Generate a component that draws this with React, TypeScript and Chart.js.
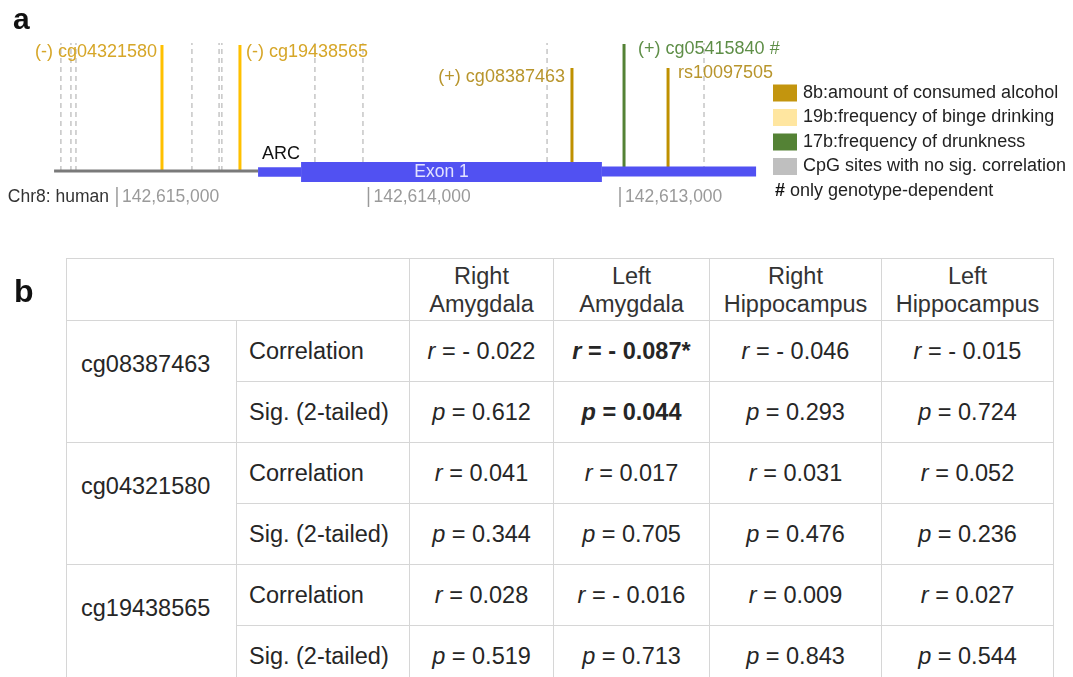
import React, { useEffect, useRef } from 'react';
import { Chart, registerables } from 'chart.js';

Chart.register(...registerables);

// ---------- Panel a data (genomic coordinates, chr8) ----------
const tickPositions = [142615000, 142614000, 142613000];
const backboneStart = 142615250;
const geneStart = 142614439;
const exonStart = 142614268;
const exonEnd = 142613072;
const geneEnd = 142612459;

const noCorrSites = [
  142615223, 142615183, 142615163, 142614702, 142614594, 142614583,
  142614213, 142614022, 142613290, 142612666,
];
const noCorrHeight = 128;

const sigSiteNames = ['cg04321580', 'cg19438565', 'cg08387463', 'cg05415840', 'rs10097505'];
const sigSitePositions = [142614821, 142614511, 142613191, 142612984, 142612809];
const sigSiteGroups = ['19b', '19b', '8b', '17b', '8b'];
const sigSitePrefix = ['(-) ', '(-) ', '(+) ', '(+) ', ''];
const sigSiteSuffix = ['', '', '', ' #', ''];
const sigSiteHeights = [126, 126, 103, 127, 103];

const legendKeys = ['8b', '19b', '17b', 'none'];
const legendLabels = [
  '8b:amount of consumed alcohol',
  '19b:frequency of binge drinking',
  '17b:frequency of drunkness',
  'CpG sites with no sig. correlation',
];
const legendNote = 'only genotype-dependent';

// ---------- Panel b data ----------
const regionHeaders = [
  ['Right', 'Amygdala'],
  ['Left', 'Amygdala'],
  ['Right', 'Hippocampus'],
  ['Left', 'Hippocampus'],
];
const cpgNames = ['cg08387463', 'cg04321580', 'cg19438565'];
const rValues = [
  [-0.022, -0.087, -0.046, -0.015],
  [0.041, 0.017, 0.031, 0.052],
  [0.028, -0.016, 0.009, 0.027],
];
const pValues = [
  [0.612, 0.044, 0.293, 0.724],
  [0.344, 0.705, 0.476, 0.236],
  [0.519, 0.713, 0.843, 0.544],
];

// ---------- styles ----------
const lineColors: Record<string, string> = { '8b': '#BF9000', '19b': '#FFC000', '17b': '#548235' };
const textColors: Record<string, string> = { '8b': '#B8952C', '19b': '#D6A628', '17b': '#5E8E47' };
const legendColors: Record<string, string> = { '8b': '#C3950E', '19b': '#FFE6A0', '17b': '#548235', none: '#BFBFBF' };
const labelPlacement = [
  { side: 'left', dx: -5, dy: 7 },
  { side: 'right', dx: 6, dy: 7 },
  { side: 'left', dx: -7, dy: 9 },
  { side: 'right', dx: 14, dy: 5 },
  { side: 'right', dx: 10, dy: 5 },
];
const FONT = '"Liberation Sans", Arial, sans-serif';
const GENE_Y = -1;

const labelsPlugin = {
  id: 'trackLabels',
  afterDatasetsDraw(chart: any) {
    const ctx = chart.ctx as CanvasRenderingContext2D;
    const xs = chart.scales.x;
    const ys = chart.scales.y;
    ctx.save();
    ctx.textBaseline = 'middle';

    // site labels
    ctx.font = `18px ${FONT}`;
    sigSiteNames.forEach((name, i) => {
      const px = xs.getPixelForValue(sigSitePositions[i]);
      const py = ys.getPixelForValue(sigSiteHeights[i]);
      const pl = labelPlacement[i];
      ctx.fillStyle = textColors[sigSiteGroups[i]];
      ctx.textAlign = pl.side === 'left' ? 'right' : 'left';
      ctx.fillText(sigSitePrefix[i] + name + sigSiteSuffix[i], px + pl.dx, py + pl.dy);
    });

    // axis ticks
    const axisY = ys.getPixelForValue(GENE_Y) + 25;
    ctx.font = `17.5px ${FONT}`;
    tickPositions.forEach((t) => {
      const px = xs.getPixelForValue(t);
      ctx.strokeStyle = '#9a9a9a';
      ctx.lineWidth = 1.5;
      ctx.beginPath();
      ctx.moveTo(px, axisY - 10);
      ctx.lineTo(px, axisY + 10);
      ctx.stroke();
      ctx.fillStyle = '#9a9a9a';
      ctx.textAlign = 'left';
      ctx.fillText(t.toLocaleString('en-US'), px + 5, axisY);
    });
    ctx.fillStyle = '#333333';
    ctx.textAlign = 'right';
    ctx.fillText('Chr8: human', xs.getPixelForValue(tickPositions[0]) - 8, axisY);

    // gene labels
    ctx.font = `18px ${FONT}`;
    ctx.fillStyle = '#111111';
    ctx.textAlign = 'left';
    ctx.fillText('ARC', xs.getPixelForValue(geneStart) + 4, ys.getPixelForValue(GENE_Y) - 18);
    ctx.font = `17.5px ${FONT}`;
    ctx.fillStyle = '#E2E2FF';
    ctx.textAlign = 'center';
    ctx.fillText(
      'Exon 1',
      (xs.getPixelForValue(exonStart) + xs.getPixelForValue(exonEnd)) / 2 - 10,
      ys.getPixelForValue(GENE_Y)
    );

    // legend
    const lx = 773;
    const ly0 = 93;
    const step = 24.5;
    ctx.font = `18px ${FONT}`;
    ctx.textAlign = 'left';
    legendKeys.forEach((k, i) => {
      const cy = ly0 + i * step;
      ctx.fillStyle = legendColors[k];
      ctx.fillRect(lx, cy - 8.5, 24, 17);
      ctx.fillStyle = '#222222';
      ctx.fillText(legendLabels[i], lx + 30, cy);
    });
    const ny = ly0 + 4 * step;
    ctx.font = `bold 18px ${FONT}`;
    ctx.fillStyle = '#111111';
    ctx.fillText('#', lx + 2, ny);
    ctx.font = `18px ${FONT}`;
    ctx.fillStyle = '#222222';
    ctx.fillText(legendNote, lx + 17, ny);
    ctx.restore();
  },
};

function GeneTrack() {
  const ref = useRef<HTMLCanvasElement | null>(null);
  useEffect(() => {
    if (!ref.current) return;
    const seg = (a: number, b: number, y: number) => [
      { x: a, y },
      { x: b, y },
    ];
    const datasets: any[] = [
      // gene model (drawn on top: lower index is drawn last)
      { data: seg(exonStart, exonEnd, GENE_Y), borderColor: '#5151F2', borderWidth: 20 },
      { data: seg(geneStart, exonStart, GENE_Y), borderColor: '#5151F2', borderWidth: 9.5 },
      { data: seg(exonEnd, geneEnd, GENE_Y + 0.5), borderColor: '#5151F2', borderWidth: 10 },
      { data: seg(backboneStart, geneStart, 0), borderColor: '#7a7a7a', borderWidth: 3 },
    ];
    sigSitePositions.forEach((p, i) => {
      datasets.push({
        data: [
          { x: p, y: 0 },
          { x: p, y: sigSiteHeights[i] },
        ],
        borderColor: lineColors[sigSiteGroups[i]],
        borderWidth: 3,
      });
    });
    noCorrSites.forEach((p) => {
      datasets.push({
        data: [
          { x: p, y: 0 },
          { x: p, y: noCorrHeight },
        ],
        borderColor: '#C6C6C6',
        borderWidth: 1.5,
        borderDash: [5, 4],
      });
    });
    datasets.forEach((d) => {
      d.pointRadius = 0;
      d.tension = 0;
      d.fill = false;
      d.borderCapStyle = 'butt';
    });
    const chart = new Chart(ref.current, {
      type: 'line',
      data: { datasets },
      options: {
        animation: false,
        responsive: false,
        maintainAspectRatio: false,
        layout: { padding: 0 },
        plugins: { legend: { display: false }, tooltip: { enabled: false } },
        scales: {
          x: { type: 'linear', reverse: true, min: 142611199, max: 142615465, bounds: 'data', display: false },
          y: { type: 'linear', min: -59, max: 171, display: false },
        },
      },
      plugins: [labelsPlugin],
    } as any);
    return () => chart.destroy();
  }, []);
  return (
    <canvas
      ref={ref}
      width={1073}
      height={230}
      style={{ position: 'absolute', left: 0, top: 0, width: 1073, height: 230 }}
    />
  );
}

const fmt = (v: number) => (v < 0 ? '- ' + Math.abs(v).toFixed(3) : v.toFixed(3));

const border = '1.5px solid #d6d6d6';
const colWidths = [170, 173, 144, 156, 172, 172];

function StatsTable() {
  const cellBase: React.CSSProperties = { border, padding: 0, color: '#262626' };
  return (
    <table
      style={{
        position: 'absolute',
        left: 66,
        top: 258,
        borderCollapse: 'collapse',
        tableLayout: 'fixed',
        width: colWidths.reduce((a, b) => a + b, 0),
        fontFamily: FONT,
        fontSize: '23.5px',
      }}
    >
      <colgroup>
        {colWidths.map((w, i) => (
          <col key={i} style={{ width: w }} />
        ))}
      </colgroup>
      <tbody>
        <tr style={{ height: 62 }}>
          <td colSpan={2} style={cellBase} />
          {regionHeaders.map((h, i) => (
            <td key={i} style={{ ...cellBase, textAlign: 'center', lineHeight: '28px', color: '#333' }}>
              {h[0]}
              <br />
              {h[1]}
            </td>
          ))}
        </tr>
        {cpgNames.map((name, ri) => (
          <React.Fragment key={name}>
            <tr style={{ height: 61 }}>
              <td
                rowSpan={2}
                style={{ ...cellBase, verticalAlign: 'top', paddingTop: 29, paddingLeft: 14, lineHeight: '28px' }}
              >
                {name}
              </td>
              <td style={{ ...cellBase, paddingLeft: 12 }}>Correlation</td>
              {rValues[ri].map((r, ci) => {
                const sig = pValues[ri][ci] < 0.05;
                return (
                  <td key={ci} style={{ ...cellBase, textAlign: 'center', fontWeight: sig ? 'bold' : 'normal' }}>
                    <i>r</i> = {fmt(r)}
                    {sig ? '*' : ''}
                  </td>
                );
              })}
            </tr>
            <tr style={{ height: 61 }}>
              <td style={{ ...cellBase, paddingLeft: 12 }}>Sig. (2-tailed)</td>
              {pValues[ri].map((p, ci) => {
                const sig = p < 0.05;
                return (
                  <td key={ci} style={{ ...cellBase, textAlign: 'center', fontWeight: sig ? 'bold' : 'normal' }}>
                    <i>p</i> = {p.toFixed(3)}
                  </td>
                );
              })}
            </tr>
          </React.Fragment>
        ))}
      </tbody>
    </table>
  );
}

export default function App() {
  return (
    <div
      style={{
        position: 'absolute',
        left: 0,
        top: 0,
        width: 1073,
        height: 677,
        overflow: 'hidden',
        background: '#ffffff',
        fontFamily: FONT,
      }}
    >
      <GeneTrack />
      <div
        style={{ position: 'absolute', left: 13, top: 4, fontSize: 30, lineHeight: '30px', fontWeight: 'bold', color: '#111' }}
      >
        a
      </div>
      <div
        style={{ position: 'absolute', left: 14, top: 275, fontSize: 32, lineHeight: '32px', fontWeight: 'bold', color: '#111' }}
      >
        b
      </div>
      <StatsTable />
    </div>
  );
}
